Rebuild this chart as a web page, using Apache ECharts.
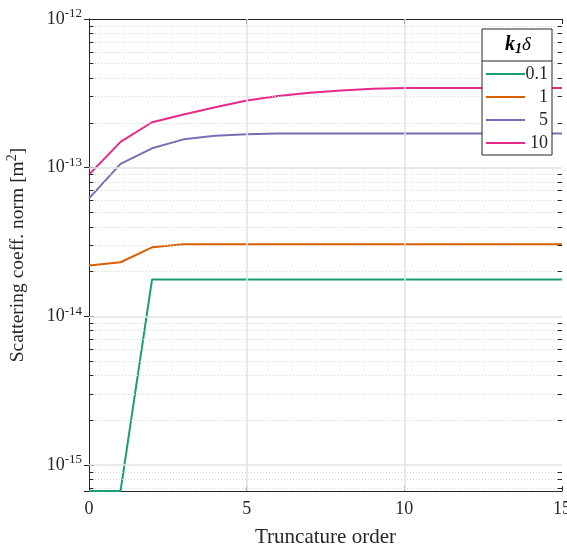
<!DOCTYPE html>
<html>
<head>
<meta charset="utf-8">
<script src="https://cdn.jsdelivr.net/npm/echarts@6/dist/echarts.min.js"></script>
<style>html,body{margin:0;padding:0;background:#fff;}#c{width:567px;height:548px;}</style>
</head>
<body>
<div id="c"></div>
<script>
const orders = [0,1,2,3,4,5,6,7,8,9,10,11,12,13,14,15];
const seriesNames = ['0.1','1','5','10'];
const green  = [6.68e-16,6.68e-16,1.77e-14,1.77e-14,1.77e-14,1.77e-14,1.77e-14,1.77e-14,1.77e-14,1.77e-14,1.77e-14,1.77e-14,1.77e-14,1.77e-14,1.77e-14,1.77e-14];
const orange = [2.20e-14,2.31e-14,2.91e-14,3.05e-14,3.05e-14,3.05e-14,3.05e-14,3.05e-14,3.05e-14,3.05e-14,3.05e-14,3.05e-14,3.05e-14,3.05e-14,3.05e-14,3.05e-14];
const purple = [6.22e-14,1.06e-13,1.35e-13,1.55e-13,1.64e-13,1.68e-13,1.70e-13,1.70e-13,1.70e-13,1.70e-13,1.70e-13,1.70e-13,1.70e-13,1.70e-13,1.70e-13,1.70e-13];
const pink   = [8.97e-14,1.49e-13,2.02e-13,2.28e-13,2.55e-13,2.83e-13,3.03e-13,3.19e-13,3.31e-13,3.40e-13,3.43e-13,3.43e-13,3.43e-13,3.43e-13,3.43e-13,3.43e-13];
const colors = ['#1b9e77','#d95f02','#7570b3','#e7298a'];
const yMin = 6.68e-16, yMax = 1e-12;

const FONT = 'Liberation Serif';
const pair = (a) => orders.map((x,i)=>[x,a[i]]);

// minor gridline positions (2..9 x decade)
const minorVals = [];
for (let e=-16; e<=-13; e++) for (let m=2; m<=9; m++) {
  const v = m*Math.pow(10,e);
  if (v>yMin && v<yMax) minorVals.push(v);
}
const majorVals = [1e-15,1e-14,1e-13];

const supFmt = (v) => {
  const l = Math.log10(v);
  if (Math.abs(l-Math.round(l))>1e-6) return '';
  return '{b|10}{s|' + Math.round(l) + '}';
};

const chart = echarts.init(document.getElementById('c'), null, {renderer:'canvas'});
const mkSeries = (name, data, color) => ({
  name, type:'line', data: pair(data), showSymbol:false, symbol:'none',
  lineStyle:{color, width:2}, itemStyle:{color}, z:3, animation:false
});
const minorGrid = minorVals.map(v=>[{coord:[0,v]},{coord:[15,v]}]);
const majorGrid = majorVals.map(v=>[{coord:[0,v]},{coord:[15,v]}])
  .concat([5,10].map(x=>[{coord:[x,yMin]},{coord:[x,yMax]}]));
const minorTickData = [];
minorVals.forEach(v=>{
  minorTickData.push([{coord:[0,v]},{coord:[0.14,v]}]);
  minorTickData.push([{coord:[14.86,v]},{coord:[15,v]}]);
});
const axisCommon = {
  axisLine:{show:true, lineStyle:{color:'#262626', width:1}},
  axisTick:{show:true, inside:true, length:5, lineStyle:{color:'#262626'}},
  splitLine:{show:false}
};

chart.setOption({
  animation:false,
  backgroundColor:'#fff',
  textStyle:{fontFamily:FONT},
  grid:{left:89, right:5, top:19, bottom:57, containLabel:false, outerBoundsMode:'none'},
  xAxis:[Object.assign({
    type:'value', min:0, max:15, interval:5, position:'bottom',
    axisLabel:{color:'#262626', fontSize:18, fontFamily:FONT, margin:9},
    name:'Truncature order', nameLocation:'middle', nameGap:36,
    nameTextStyle:{color:'#262626', fontSize:21, fontFamily:FONT}
  }, axisCommon),
  Object.assign({
    type:'value', min:0, max:15, interval:5, position:'top',
    axisLabel:{show:false}
  }, axisCommon)],
  yAxis:[Object.assign({
    type:'log', logBase:10, min:yMin, max:yMax, position:'left',
    axisLabel:{color:'#262626', fontFamily:FONT, margin:7, formatter:supFmt,
      rich:{b:{fontSize:18, fontFamily:FONT, color:'#262626'},
            s:{fontSize:13, fontFamily:FONT, color:'#262626', verticalAlign:'top', padding:[0,0,10,0]}}},
    minorTick:{show:false}, minorSplitLine:{show:false},
    name:'Scattering coeff. norm [m{s|2}]', nameLocation:'middle', nameGap:58, nameRotate:90,
    nameTextStyle:{color:'#262626', fontSize:19.5, fontFamily:FONT,
      rich:{s:{fontSize:14, fontFamily:FONT, color:'#262626', verticalAlign:'top', padding:[0,0,12,0]}}}
  }, axisCommon),
  Object.assign({
    type:'log', logBase:10, min:yMin, max:yMax, position:'right',
    axisLabel:{show:false}
  }, axisCommon)],
  legend:{
    data:seriesNames, orient:'vertical', left:486, top:65, padding:0,
    itemWidth:39, itemHeight:2, itemGap:5, icon:'rect',
    formatter:(n)=>'{a|'+n+'}',
    textStyle:{fontFamily:FONT, fontSize:18, color:'#262626', lineHeight:16,
      rich:{a:{width:18, align:'right', fontSize:18, fontFamily:FONT, color:'#262626'}}},
    z:10
  },
  graphic:[
    {type:'rect', shape:{x:482, y:29, width:70, height:126}, style:{fill:'#fff', stroke:'#262626', lineWidth:1}, z:8, silent:true},
    {type:'line', shape:{x1:482, y1:61, x2:552, y2:61}, style:{stroke:'#262626', lineWidth:1}, z:9, silent:true},
    {type:'text', x:518, y:45, z:9, silent:true, style:{
      text:'{k|k}{i|1}{d|δ}', align:'center', verticalAlign:'middle',
      rich:{k:{fontSize:20, fontWeight:'bold', fontStyle:'italic', fontFamily:FONT, fill:'#000'},
            i:{fontSize:14, fontWeight:'bold', fontStyle:'italic', fontFamily:FONT, fill:'#000', verticalAlign:'bottom', padding:[8,0,0,0]},
            d:{fontSize:19, fontStyle:'italic', fontFamily:FONT, fill:'#000'}}}}
  ],
  series:[
    {name:'__minor', type:'line', data:[], silent:true, z:1,
      markLine:{silent:true, symbol:'none', animation:false, label:{show:false},
        lineStyle:{color:'#d6d6d6', width:1, type:[1,2]}, data:minorGrid}},
    {name:'__major', type:'line', data:[], silent:true, z:1,
      markLine:{silent:true, symbol:'none', animation:false, label:{show:false},
        lineStyle:{color:'#e2e2e2', width:1.5, type:'solid'}, data:majorGrid}},
    {name:'__ticks', type:'line', data:[], silent:true, z:2,
      markLine:{silent:true, symbol:'none', animation:false, label:{show:false},
        lineStyle:{color:'#262626', width:1, type:'solid'}, data:minorTickData}},
    mkSeries(seriesNames[0], green, colors[0]),
    mkSeries(seriesNames[1], orange, colors[1]),
    mkSeries(seriesNames[2], purple, colors[2]),
    mkSeries(seriesNames[3], pink, colors[3])
  ]
});
</script>
</body>
</html>
